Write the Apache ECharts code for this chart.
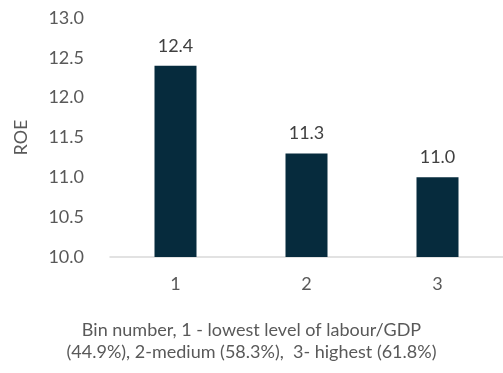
<!DOCTYPE html>
<html>
<head>
<meta charset="utf-8">
<script src="https://cdn.jsdelivr.net/npm/echarts@6/dist/echarts.min.js"></script>
<style>
  html, body { margin: 0; padding: 0; background: #fff; }
  #chart { width: 503px; height: 373px; }
</style>
</head>
<body>
<div id="chart"></div>
<script>
// Bins and average ROE per bin
const bins = ['1', '2', '3'];
const roe = [12.4, 11.3, 11.0];
const yTicks = { min: 10, max: 13, step: 0.5 };
const xTitleLines = [
  'Bin number, 1 - lowest level of labour/GDP',
  '(44.9%), 2-medium (58.3%),  3- highest (61.8%)'
];

const font = 'Lato, "Open Sans", sans-serif';
const chart = echarts.init(document.getElementById('chart'), null, { renderer: 'canvas' });

chart.setOption({
  animation: false,
  backgroundColor: '#ffffff',
  grid: { left: 110, top: 18, width: 402, height: 239, containLabel: false },
  xAxis: {
    type: 'category',
    data: bins,
    axisLine: { show: true, lineStyle: { color: '#d9d9d9', width: 1.5 } },
    axisTick: { show: false },
    axisLabel: { color: '#595959', fontSize: 18, fontFamily: font, margin: 18 }
  },
  yAxis: {
    type: 'value',
    min: yTicks.min,
    max: yTicks.max,
    interval: yTicks.step,
    name: 'ROE',
    nameLocation: 'middle',
    nameGap: 80,
    nameRotate: 90,
    nameTextStyle: { color: '#595959', fontSize: 18, fontFamily: font },
    axisLine: { show: false },
    axisTick: { show: false },
    splitLine: { show: false },
    axisLabel: {
      color: '#595959', fontSize: 18, fontFamily: font, margin: 26,
      formatter: v => v.toFixed(1)
    }
  },
  series: [{
    type: 'bar',
    data: roe,
    barWidth: 42,
    itemStyle: { color: '#062b3d' },
    label: {
      show: true,
      position: 'top',
      distance: 11,
      color: '#404040',
      fontSize: 18,
      fontFamily: font,
      formatter: p => p.value.toFixed(1)
    }
  }],
  graphic: xTitleLines.map((t, i) => ({
    type: 'text',
    left: 'center',
    top: 321 + i * 22,
    style: { text: t, fill: '#595959', fontSize: 18, fontFamily: font }
  }))
});
</script>
</body>
</html>
